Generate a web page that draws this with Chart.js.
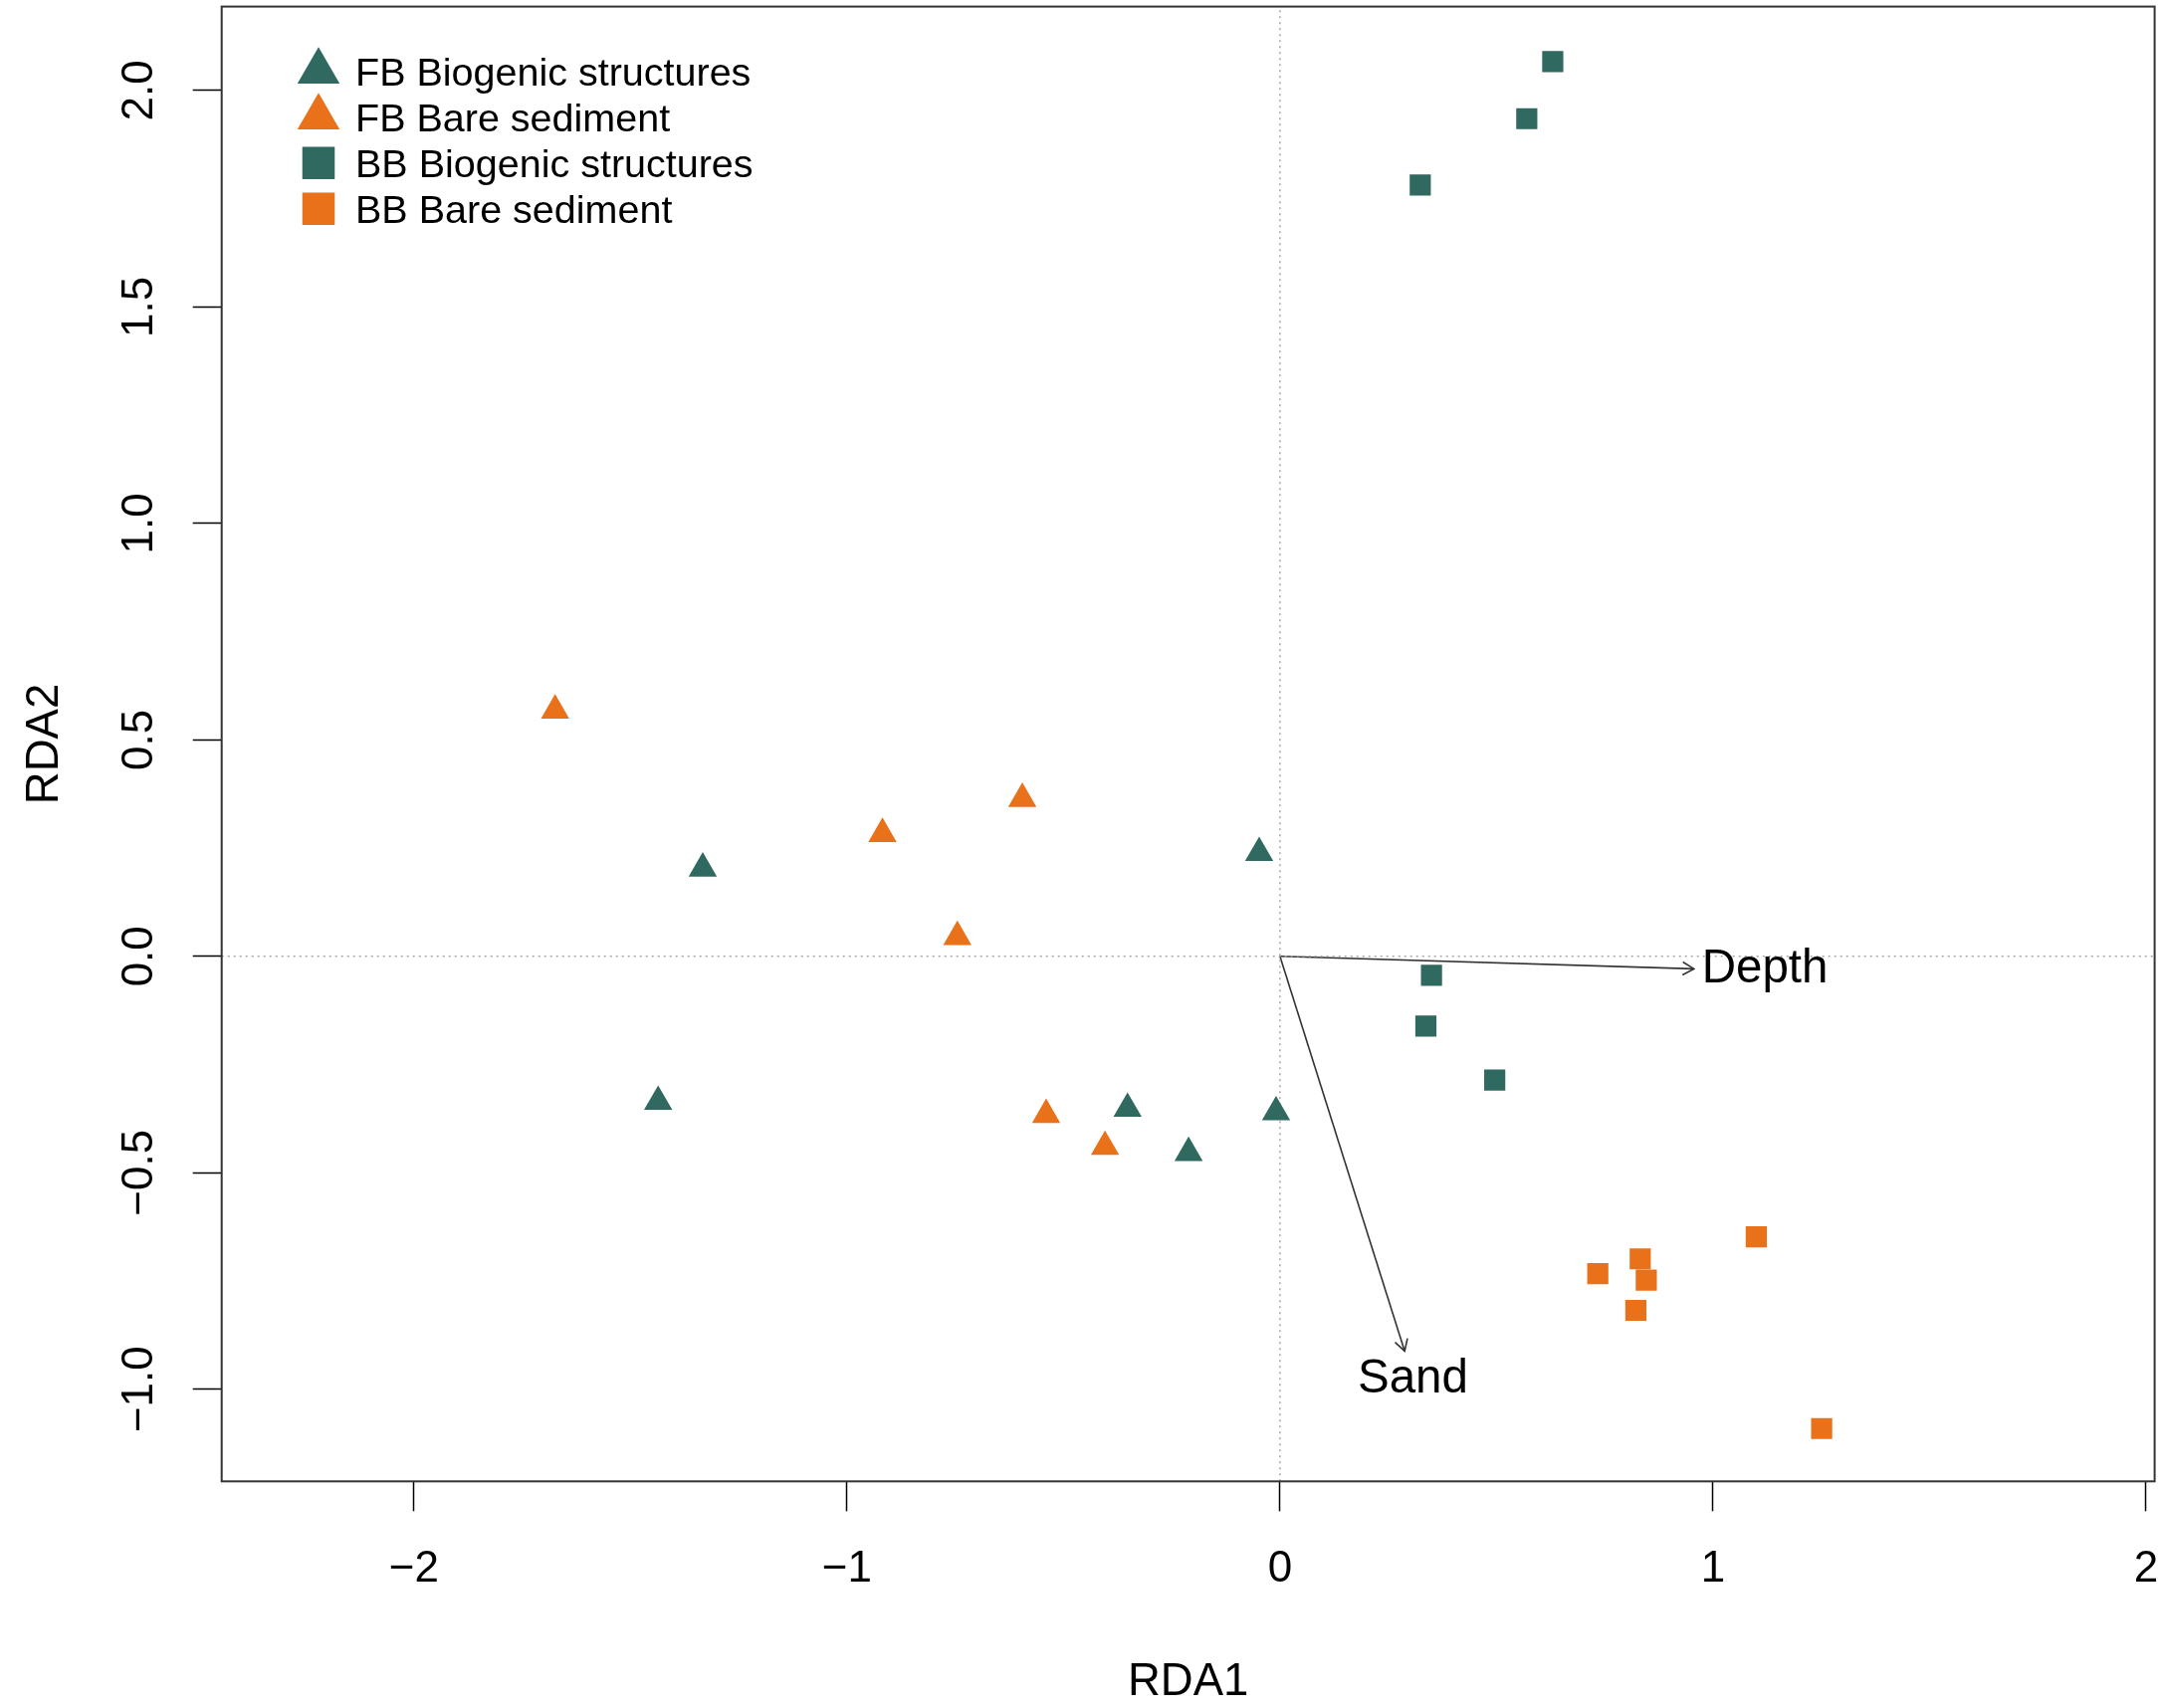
<!DOCTYPE html>
<html>
<head>
<meta charset="utf-8">
<title>RDA biplot</title>
<script src="https://cdn.jsdelivr.net/npm/chart.js@4.4.1/dist/chart.umd.min.js"></script>
<style>
  html, body { margin: 0; padding: 0; background: #fff; overflow: hidden; }
  #wrap { width: 2173px; height: 1716px; position: relative; }
  #rdaChart { display: block; }
</style>
</head>
<body>
<div id="wrap"><canvas id="rdaChart"></canvas></div>
<script>
// site scores (RDA1, RDA2)
const fbBioX = [-1.333, -0.048, -1.436, -0.352, -0.211, -0.009];
const fbBioY = [0.203, 0.239, -0.336, -0.352, -0.454, -0.360];
const fbBareX = [-1.674, -0.918, -0.595, -0.745, -0.540, -0.404];
const fbBareY = [0.568, 0.283, 0.364, 0.045, -0.366, -0.440];
const bbBioX = [0.630, 0.570, 0.324, 0.350, 0.337, 0.496];
const bbBioY = [2.067, 1.935, 1.782, -0.044, -0.161, -0.286];
const bbBareX = [1.100, 0.832, 0.734, 0.846, 0.822, 1.251];
const bbBareY = [-0.648, -0.699, -0.733, -0.748, -0.818, -1.091];

// environmental vectors
const envNames = ["Depth", "Sand"];
const envX = [0.956, 0.288];
const envY = [-0.029, -0.912];
const envLabelX = [1.120, 0.307];
const envLabelY = [-0.024, -0.971];

const xTicks = [-2, -1, 0, 1, 2];
const yTicks = [-1, -0.5, 0, 0.5, 1, 1.5, 2];
const xRange = [-2.444, 2.020];
const yRange = [-1.213, 2.194];

const GREEN = "#30695F";
const ORANGE = "#E8711A";
const FONT = "'Liberation Sans', Arial, Helvetica, sans-serif";

function fmt(v, digits) {
    const s = Math.abs(v).toFixed(digits);
    return v < 0 ? "\u2212" + s : s;
}

function pts(xs, ys) {
    return xs.map((x, i) => ({ x: x, y: ys[i] }));
}

function sites(label, xs, ys, style, color, r, legendR) {
    return {
        label: label,
        data: pts(xs, ys),
        pointStyle: style,
        backgroundColor: color,
        borderWidth: 0,
        pointRadius: r,
        pointHoverRadius: r,
        legendRadius: legendR,
        order: 0
    };
}

function refLine(data, color, width, dash) {
    return {
        data: data,
        showLine: true,
        borderColor: color,
        borderWidth: width,
        borderDash: dash,
        pointRadius: 0,
        order: 2
    };
}

const datasets = [
    sites("FB Biogenic structures", fbBioX, fbBioY, "triangle", GREEN, 16.4, 24.5),
    sites("FB Bare sediment", fbBareX, fbBareY, "triangle", ORANGE, 16.4, 24.5),
    sites("BB Biogenic structures", bbBioX, bbBioY, "rect", GREEN, 15, 23),
    sites("BB Bare sediment", bbBareX, bbBareY, "rect", ORANGE, 15, 23),
    refLine([{ x: 0, y: yRange[0] }, { x: 0, y: yRange[1] }], "#a8a8a8", 1.5, [2, 4]),
    refLine([{ x: xRange[0], y: 0 }, { x: xRange[1], y: 0 }], "#a8a8a8", 1.5, [2, 4])
];
envNames.forEach((n, i) => {
    datasets.push(refLine([{ x: 0, y: 0 }, { x: envX[i], y: envY[i] }], "#333333", 1.6, []));
});

// arrow heads, vector labels, box and the legend
const biplotExtras = {
    id: "biplotExtras",
    afterDatasetsDraw(chart) {
        const { ctx, chartArea: a, scales: { x, y } } = chart;
        ctx.save();

        const ox = x.getPixelForValue(0), oy = y.getPixelForValue(0);
        ctx.strokeStyle = "#333333";
        ctx.lineWidth = 1.6;
        envNames.forEach((name, i) => {
            const tx = x.getPixelForValue(envX[i]), ty = y.getPixelForValue(envY[i]);
            const ang = Math.atan2(ty - oy, tx - ox);
            const len = 13;
            ctx.beginPath();
            ctx.moveTo(tx - len * Math.cos(ang - Math.PI / 6), ty - len * Math.sin(ang - Math.PI / 6));
            ctx.lineTo(tx, ty);
            ctx.lineTo(tx - len * Math.cos(ang + Math.PI / 6), ty - len * Math.sin(ang + Math.PI / 6));
            ctx.stroke();

            ctx.fillStyle = "#000";
            ctx.font = "47.5px " + FONT;
            ctx.textAlign = "center";
            ctx.textBaseline = "middle";
            // +3px: canvas "middle" sits a little above the cap-height centre
            ctx.fillText(name, x.getPixelForValue(envLabelX[i]), y.getPixelForValue(envLabelY[i]) + 3);
        });

        ctx.strokeStyle = "#333333";
        ctx.lineWidth = 2;
        ctx.strokeRect(a.left, a.top, a.right - a.left, a.bottom - a.top);

        let row = 0;
        chart.data.datasets.forEach(ds => {
            if (!ds.legendRadius) return;
            const ly = 71.8 + row * 46;
            ctx.fillStyle = ds.backgroundColor;
            Chart.helpers.drawPoint(ctx, { pointStyle: ds.pointStyle, radius: ds.legendRadius, rotation: 0, borderWidth: 0 }, 320, ly);
            ctx.fillStyle = "#000";
            ctx.font = "39.5px " + FONT;
            ctx.textAlign = "left";
            ctx.textBaseline = "middle";
            ctx.fillText(ds.label, 357, ly + 3);
            row++;
        });
        ctx.restore();
    }
};

new Chart(document.getElementById("rdaChart"), {
    type: "scatter",
    data: { datasets: datasets },
    plugins: [biplotExtras],
    options: {
        responsive: true,
        maintainAspectRatio: false,
        animation: false,
        events: [],
        layout: { autoPadding: false, padding: { top: 6.6, right: 8.4, left: 0, bottom: 0 } },
        plugins: { legend: { display: false }, tooltip: { enabled: false } },
        scales: {
            x: {
                type: "linear",
                min: xRange[0],
                max: xRange[1],
                afterBuildTicks: s => { s.ticks = xTicks.map(v => ({ value: v })); },
                afterFit: s => { s.height = 1716 - 1488.3; s.paddingLeft = 0; s.paddingRight = 0; },
                grid: { drawOnChartArea: false, drawTicks: true, tickLength: 30, tickColor: "#000", tickWidth: 1.5 },
                border: { display: false },
                ticks: {
                    color: "#000",
                    font: { family: FONT, size: 44 },
                    padding: 32,
                    maxRotation: 0,
                    autoSkip: false,
                    callback: v => fmt(v, 0)
                },
                title: {
                    display: true,
                    text: "RDA1",
                    color: "#000",
                    font: { family: FONT, size: 45.5, lineHeight: 1 },
                    padding: { top: 0, bottom: 3 }
                }
            },
            y: {
                type: "linear",
                min: yRange[0],
                max: yRange[1],
                afterBuildTicks: s => { s.ticks = yTicks.map(v => ({ value: v })); },
                afterFit: s => { s.width = 222.7; s.paddingTop = 0; s.paddingBottom = 0; },
                grid: { drawOnChartArea: false, drawTicks: true, tickLength: 29, tickColor: "#000", tickWidth: 1.5 },
                border: { display: false },
                ticks: {
                    color: "#000",
                    font: { family: FONT, size: 44 },
                    padding: 9.5,
                    minRotation: 90,
                    maxRotation: 90,
                    crossAlign: "center",
                    autoSkip: false,
                    callback: v => fmt(v, 1)
                },
                title: {
                    display: true,
                    text: "RDA2",
                    color: "#000",
                    font: { family: FONT, size: 45.5, lineHeight: 1 },
                    padding: { top: 23, bottom: 0 }
                }
            }
        }
    }
});
</script>
</body>
</html>
